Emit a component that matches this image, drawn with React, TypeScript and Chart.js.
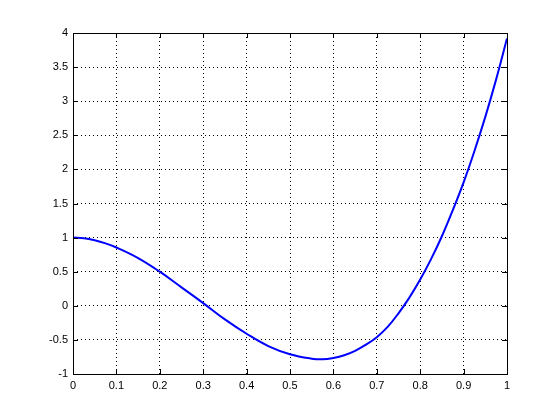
import React, { useEffect, useRef } from "react";
import { Chart, registerables } from "chart.js";

Chart.register(...registerables);

const xValues = [0, 0.025, 0.05, 0.075, 0.1, 0.15, 0.2, 0.25, 0.3, 0.35, 0.4, 0.45, 0.5, 0.55, 0.575, 0.6, 0.625, 0.65, 0.675, 0.7, 0.725, 0.75, 0.775, 0.8, 0.825, 0.85, 0.875, 0.9, 0.925, 0.95, 0.975, 1.0];
const yValues = [1.0, 0.99, 0.96, 0.915, 0.855, 0.70, 0.5, 0.27, 0.04, -0.20, -0.41, -0.59, -0.71, -0.775, -0.785, -0.765, -0.725, -0.66, -0.57, -0.46, -0.31, -0.11, 0.12, 0.385, 0.685, 1.02, 1.40, 1.81, 2.27, 2.77, 3.32, 3.92];
const xTicks = [0, 0.1, 0.2, 0.3, 0.4, 0.5, 0.6, 0.7, 0.8, 0.9, 1];
const yTicks = [-1, -0.5, 0, 0.5, 1, 1.5, 2, 2.5, 3, 3.5, 4];

const fmt = (v: number) => String(Number(v.toFixed(2)));

const framePlugin = {
  id: "frame",
  afterDraw(chart: any) {
    const { ctx, chartArea: a, scales } = chart;
    ctx.save();
    ctx.strokeStyle = "#000";
    ctx.lineWidth = 1;
    ctx.setLineDash([]);
    ctx.beginPath();
    const L = 5;
    xTicks.forEach((t) => {
      const px = Math.round(scales.x.getPixelForValue(t)) + 0.5;
      ctx.moveTo(px, a.bottom);
      ctx.lineTo(px, a.bottom - L);
      ctx.moveTo(px, a.top);
      ctx.lineTo(px, a.top + L);
    });
    yTicks.forEach((t) => {
      const py = Math.round(scales.y.getPixelForValue(t)) + 0.5;
      ctx.moveTo(a.left, py);
      ctx.lineTo(a.left + L, py);
      ctx.moveTo(a.right, py);
      ctx.lineTo(a.right - L, py);
    });
    ctx.stroke();
    ctx.strokeRect(Math.round(a.left) + 0.5, Math.round(a.top) + 0.5, Math.round(a.right - a.left), Math.round(a.bottom - a.top));
    ctx.restore();
  },
};

export default function App() {
  const ref = useRef<HTMLCanvasElement>(null);
  useEffect(() => {
    document.body.style.margin = "0";
    const data = xValues.map((x, i) => ({ x, y: yValues[i] }));
    const font = { family: "'Liberation Sans', Arial, sans-serif", size: 11 };
    const chart = new Chart(ref.current!, {
      type: "line",
      data: {
        datasets: [
          {
            data,
            borderColor: "#0000ff",
            borderWidth: 2,
            pointRadius: 0,
            tension: 0.4,
            fill: false,
          },
        ],
      },
      options: {
        animation: false,
        responsive: false,
        layout: { padding: { left: 0, top: 33, right: 53, bottom: 0 } },
        plugins: { legend: { display: false }, tooltip: { enabled: false } },
        scales: {
          x: {
            type: "linear",
            min: 0,
            max: 1,
            afterBuildTicks: (s: any) => {
              s.ticks = xTicks.map((v) => ({ value: v }));
            },
            afterFit: (s: any) => {
              s.height = 46;
            },
            grid: { color: "#000", lineWidth: 1, drawTicks: false },
            border: { display: false, dash: [1, 3] },
            ticks: { color: "#000", font, padding: 5, maxRotation: 0, autoSkip: false, callback: (v: any) => fmt(Number(v)) },
          },
          y: {
            type: "linear",
            min: -1,
            max: 4,
            afterBuildTicks: (s: any) => {
              s.ticks = yTicks.map((v) => ({ value: v }));
            },
            afterFit: (s: any) => {
              s.width = 73;
            },
            grid: { color: "#000", lineWidth: 1, drawTicks: false },
            border: { display: false, dash: [1, 3] },
            ticks: { color: "#000", font, padding: 5, autoSkip: false, callback: (v: any) => fmt(Number(v)) },
          },
        },
      } as any,
      plugins: [framePlugin],
    });
    return () => chart.destroy();
  }, []);
  return <canvas ref={ref} width={560} height={420} style={{ display: "block" }} />;
}
